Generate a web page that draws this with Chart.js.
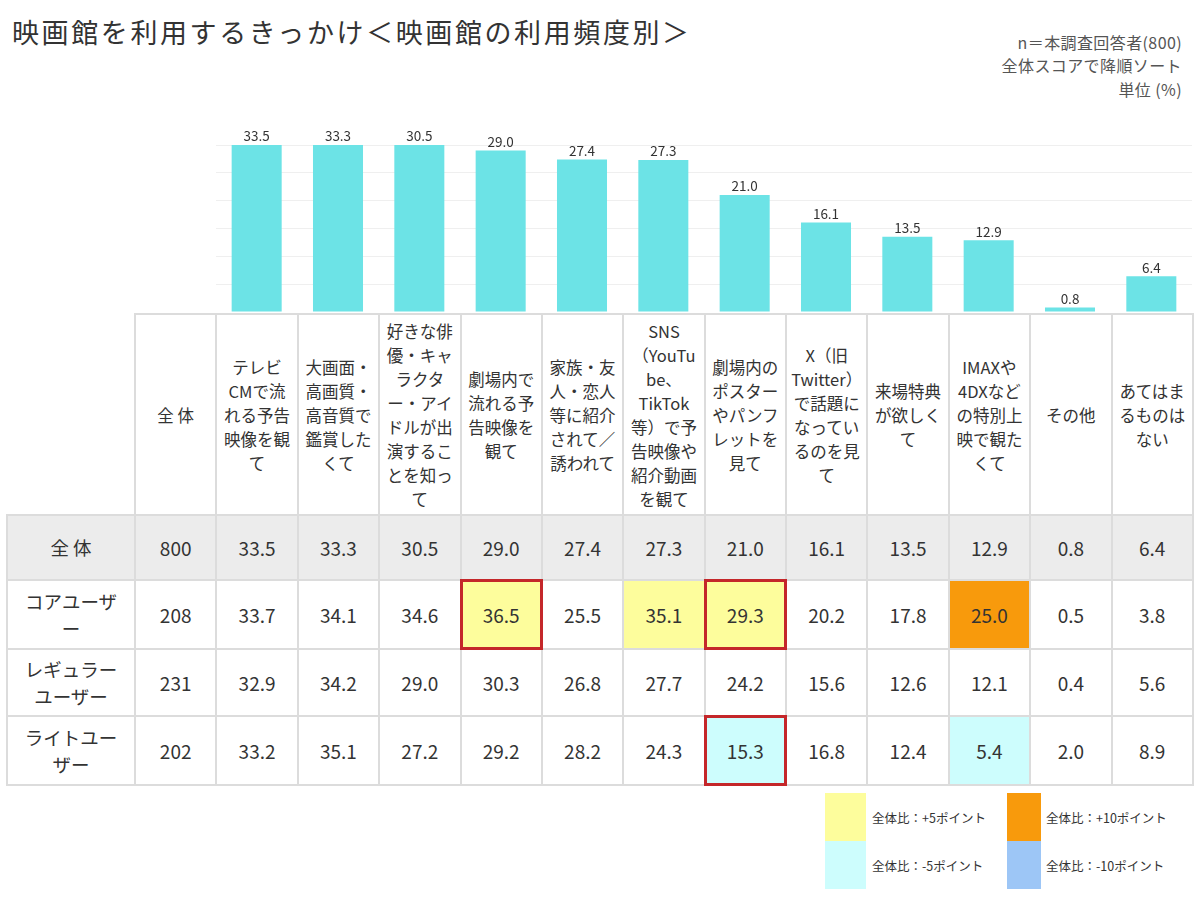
<!DOCTYPE html>
<html lang="ja">
<head>
<meta charset="utf-8">
<script src="https://cdn.jsdelivr.net/npm/chart.js@4"></script>
<style>
  body { margin: 0; width: 1200px; height: 900px; background: #fff; position: relative; overflow: hidden;
    font-family: "Noto Sans CJK JP", "Noto Sans", sans-serif; color: #333; }
  #title { position: absolute; left: 12px; top: 12px; font-size: 27px; letter-spacing: 2.6px; white-space: nowrap; color: #333; }
  #note { position: absolute; right: 18px; top: 31px; font-size: 16px; line-height: 23.4px; text-align: right; color: #555; letter-spacing: 0.4px; }
  #bars { position: absolute; left: 216px; top: 100px; }
  #tbl { position: absolute; left: 6px; top: 313px; border-collapse: collapse; table-layout: fixed; width: 1186px; }
  #tbl td { border: 2px solid #dcdcdc; text-align: center; vertical-align: middle; padding: 0; white-space: pre-line; }
  #tbl tr.head td { font-size: 16.5px; line-height: 24px; height: 199px; }
  #tbl tr.head td.blank { border-top: none; border-left: none; }
  #tbl tr.row td { font-size: 19px; line-height: 27px; }
  #tbl tr.row td.lab { font-size: 18.5px; line-height: 27px; }
  #tbl tr.all td { background: #ececec; }
  .legend-sw { position: absolute; width: 41px; height: 48px; }
  .legend-tx { position: absolute; font-size: 12.5px; color: #333; white-space: nowrap; }
</style>
</head>
<body>
<div id="title">映画館を利用するきっかけ＜映画館の利用頻度別＞</div>
<div id="note">n＝本調査回答者(800)<br>全体スコアで降順ソート<br>単位 (%)</div>
<canvas id="bars" width="976" height="212"></canvas>
<table id="tbl"></table>
<div id="legend"></div>
<script>
const categories = [
  "テレビ\nCMで流\nれる予告\n映像を観\nて",
  "大画面・\n高画質・\n高音質で\n鑑賞した\nくて",
  "好きな俳\n優・キャ\nラクタ\nー・アイ\nドルが出\n演するこ\nとを知っ\nて",
  "劇場内で\n流れる予\n告映像を\n観て",
  "家族・友\n人・恋人\n等に紹介\nされて／\n誘われて",
  "SNS\n（YouTu\nbe、\nTikTok\n等）で予\n告映像や\n紹介動画\nを観て",
  "劇場内の\nポスター\nやパンフ\nレットを\n見て",
  "X（旧\nTwitter）\nで話題に\nなってい\nるのを見\nて",
  "来場特典\nが欲しく\nて",
  "IMAXや\n4DXなど\nの特別上\n映で観た\nくて",
  "その他",
  "あてはま\nるものは\nない"
];
const overall = [33.5, 33.3, 30.5, 29.0, 27.4, 27.3, 21.0, 16.1, 13.5, 12.9, 0.8, 6.4];
const coreUser = [33.7, 34.1, 34.6, 36.5, 25.5, 35.1, 29.3, 20.2, 17.8, 25.0, 0.5, 3.8];
const regularUser = [32.9, 34.2, 29.0, 30.3, 26.8, 27.7, 24.2, 15.6, 12.6, 12.1, 0.4, 5.6];
const lightUser = [33.2, 35.1, 27.2, 29.2, 28.2, 24.3, 15.3, 16.8, 12.4, 5.4, 2.0, 8.9];
const groupNames = ["全 体", "コアユーザ\nー", "レギュラー\nユーザー", "ライトユー\nザー"];
const groupN = [800, 208, 231, 202];
const yMax = 30;
const yStep = 5;

// cells with red frame [row, col]
const framed = [[1, 3], [1, 6], [3, 6]];
const rowHeights = [63, 67, 65, 67];

const colors = { up10: "#f89a0c", up5: "#fdfd9c", down5: "#cdfdfd", down10: "#9dc6f6" };
const legendItems = [
  ["全体比：+5ポイント", colors.up5, 825, 793],
  ["全体比：-5ポイント", colors.down5, 825, 841],
  ["全体比：+10ポイント", colors.up10, 1007, 793],
  ["全体比：-10ポイント", colors.down10, 1007, 841]
];

Chart.defaults.font.family = '"Noto Sans CJK JP", "Noto Sans", sans-serif';

// value labels above bars (bars over the max are cut at the top)
const valueLabels = {
  id: "valueLabels",
  afterDatasetsDraw(chart) {
    const { ctx, chartArea } = chart;
    const meta = chart.getDatasetMeta(0);
    ctx.save();
    ctx.font = '13.5px "Noto Sans CJK JP"';
    ctx.fillStyle = "#333";
    ctx.textAlign = "center";
    ctx.textBaseline = "bottom";
    meta.data.forEach((bar, i) => {
      const y = Math.max(bar.y, chartArea.top);
      ctx.fillText(overall[i].toFixed(1), bar.x, y - 2);
    });
    ctx.restore();
  }
};

new Chart(document.getElementById("bars"), {
  type: "bar",
  data: {
    labels: categories,
    datasets: [{
      data: overall,
      backgroundColor: "#6ce3e6",
      barPercentage: 0.615,
      categoryPercentage: 1,
      clip: 0
    }]
  },
  options: {
    responsive: false,
    animation: false,
    layout: { padding: { top: 45 } },
    plugins: { legend: { display: false }, tooltip: { enabled: false } },
    scales: {
      x: { display: false },
      y: {
        min: 0,
        max: yMax,
        ticks: { display: false, stepSize: yStep },
        grid: { color: "#efefef", drawTicks: false },
        border: { display: false }
      }
    }
  },
  plugins: [valueLabels]
});

// table
const tbl = document.getElementById("tbl");
const cg = document.createElement("colgroup");
cg.innerHTML = '<col style="width:128px">' + '<col style="width:81.38px">'.repeat(13);
tbl.appendChild(cg);

const head = tbl.insertRow();
head.className = "head";
head.insertCell().className = "blank";
head.insertCell().textContent = "全 体";
categories.forEach(c => { head.insertCell().textContent = c; });

const groups = [overall, coreUser, regularUser, lightUser];
groups.forEach((vals, r) => {
  const tr = tbl.insertRow();
  tr.className = "row" + (r === 0 ? " all" : "");
  const lab = tr.insertCell();
  lab.className = "lab";
  lab.textContent = groupNames[r];
  lab.style.height = rowHeights[r] + "px";
  tr.insertCell().textContent = groupN[r];
  vals.forEach((v, c) => {
    const td = tr.insertCell();
    td.textContent = v.toFixed(1);
    if (r > 0) {
      const d = v - overall[c];
      if (d >= 10) td.style.background = colors.up10;
      else if (d >= 5) td.style.background = colors.up5;
      else if (d <= -10) td.style.background = colors.down10;
      else if (d <= -5) td.style.background = colors.down5;
    }
    if (framed.some(f => f[0] === r && f[1] === c)) {
      td.style.outline = "3px solid #c4272a";
      td.style.outlineOffset = "-2px";
    }
  });
});

// legend
const lg = document.getElementById("legend");
legendItems.forEach(([text, col, x, y]) => {
  const sw = document.createElement("div");
  sw.className = "legend-sw";
  sw.style.left = x + "px";
  sw.style.top = y + "px";
  sw.style.background = col;
  if (x > 900) sw.style.width = "34px";
  lg.appendChild(sw);
  const tx = document.createElement("div");
  tx.className = "legend-tx";
  tx.textContent = text;
  tx.style.left = (x + (x > 900 ? 39 : 47)) + "px";
  tx.style.top = (y + 15) + "px";
  lg.appendChild(tx);
});
</script>
</body>
</html>
